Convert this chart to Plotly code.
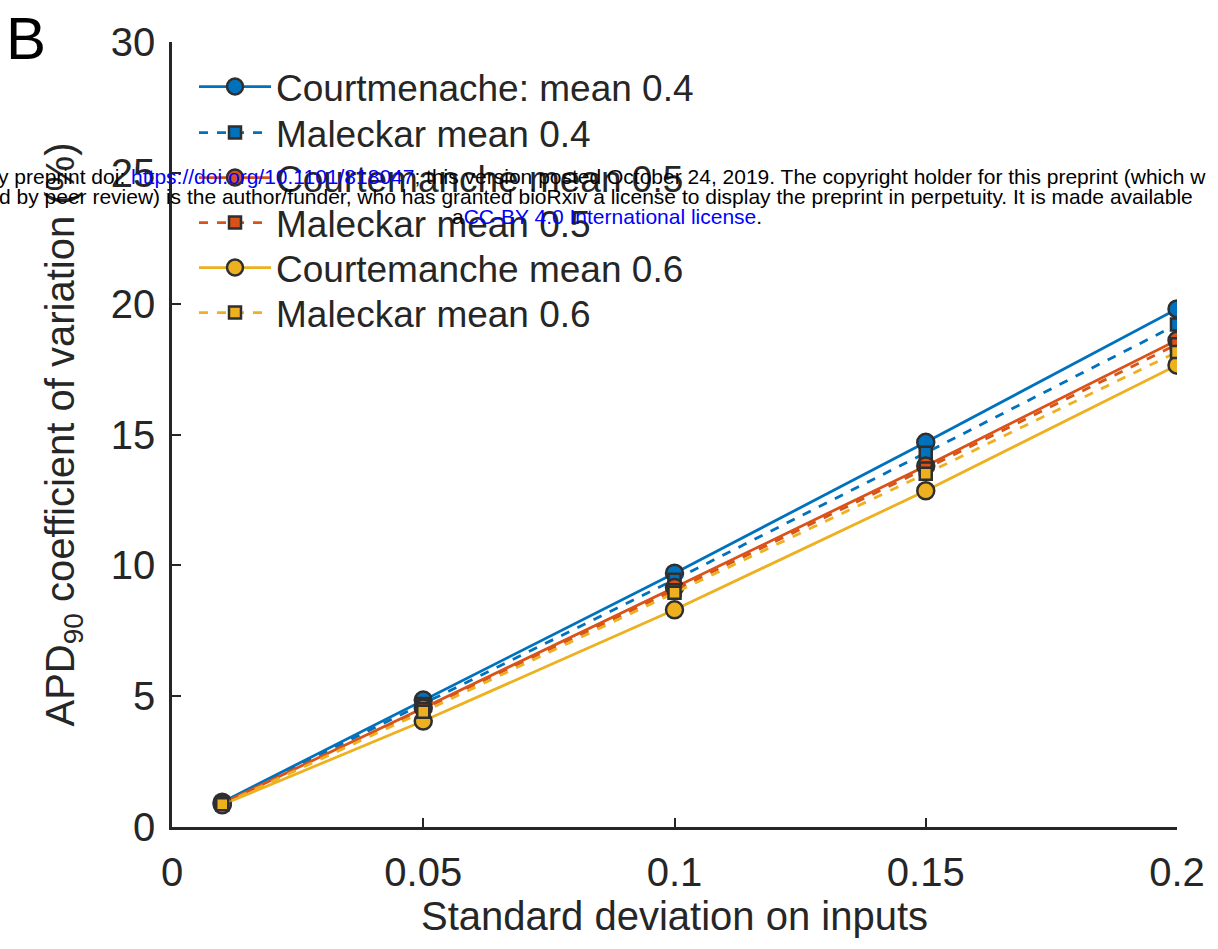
import plotly.graph_objects as go

# ---- data ----
sd_inputs = [0.01, 0.05, 0.10, 0.15, 0.20]
courtemanche_04 = [0.95, 4.85, 9.70, 14.70, 19.80]
maleckar_04 = [0.92, 4.70, 9.45, 14.30, 19.20]
courtemanche_05 = [0.90, 4.55, 9.15, 13.80, 18.60]
maleckar_05 = [0.88, 4.50, 9.05, 13.70, 18.45]
courtemanche_06 = [0.85, 4.05, 8.30, 12.85, 17.65]
maleckar_06 = [0.87, 4.40, 8.95, 13.50, 18.15]

series_names = ["Courtmenache: mean 0.4", "Maleckar mean 0.4", "Courtemanche mean 0.5",
                "Maleckar mean 0.5", "Courtemanche mean 0.6", "Maleckar mean 0.6"]
x_tick_vals = [0, 0.05, 0.1, 0.15, 0.2]
x_tick_text = ["0", "0.05", "0.1", "0.15", "0.2"]
y_tick_vals = [0, 5, 10, 15, 20, 25, 30]
y_tick_text = ["0", "5", "10", "15", "20", "25", "30"]

# ---- styling ----
BLUE, ORANGE, YELLOW = "#0072BD", "#D95319", "#EDB120"
EDGE = "#2f2f2f"
TXT = "#262626"
FONT = "Liberation Sans, Arial, sans-serif"

W, H = 1218, 949
L, R, T, B = 172, 41, 42, 122


def px2x(px):
    return (px - L) / (W - L - R)


def px2y(py):
    return (H - B - py) / (H - T - B)


series = [
    (courtemanche_04, BLUE, "solid", "circle", 17),
    (maleckar_04, BLUE, "dash", "square", 12),
    (courtemanche_05, ORANGE, "solid", "circle", 17),
    (maleckar_05, ORANGE, "dash", "square", 12),
    (courtemanche_06, YELLOW, "solid", "circle", 17),
    (maleckar_06, YELLOW, "dash", "square", 12),
]
legend_rows_px = [87, 133, 178, 223, 268, 313]
legend_ids = ["legend", "legend2", "legend3", "legend4", "legend5", "legend6"]

fig = go.Figure()
for name, (vals, col, dash, sym, size), lid in zip(series_names, series, legend_ids):
    fig.add_trace(go.Scatter(
        x=sd_inputs, y=vals, name=name, mode="lines+markers",
        line=dict(color=col, width=2.8, dash=dash),
        marker=dict(symbol=sym, size=size, color=col,
                    line=dict(color=EDGE, width=2.5)),
        legend=lid,
    ))

axis_common = dict(
    showline=True, linecolor=TXT, linewidth=2.5, mirror=False,
    ticks="inside", ticklen=9, tickwidth=2, tickcolor=TXT,
    showgrid=False, zeroline=False,
    tickfont=dict(family=FONT, size=40, color=TXT),
)

legend_layouts = {}
for lid, ypx in zip(legend_ids, legend_rows_px):
    legend_layouts[lid] = dict(
        x=px2x(194), y=px2y(ypx), xanchor="left", yanchor="middle",
        bgcolor="rgba(0,0,0,0)", borderwidth=0,
        font=dict(family=FONT, size=37, color=TXT),
        itemwidth=72,
    )

fig.update_layout(
    width=W, height=H,
    margin=dict(l=L, r=R, t=T, b=B),
    paper_bgcolor="white", plot_bgcolor="white",
    font=dict(family=FONT, color=TXT),
    xaxis=dict(range=[0, 0.2], tickvals=x_tick_vals, ticktext=x_tick_text,
               ticklabelstandoff=8,
               title=dict(text="Standard deviation on inputs",
                          font=dict(family=FONT, size=40, color=TXT), standoff=10),
               **axis_common),
    yaxis=dict(range=[0, 30], tickvals=y_tick_vals, ticktext=y_tick_text,
               ticklabelstandoff=6,
               title=dict(text="APD<sub>90</sub> coefficient of variation (%)",
                          font=dict(family=FONT, size=40, color=TXT), standoff=24),
               **axis_common),
    showlegend=True,
    **legend_layouts,
)

# panel label
fig.add_annotation(text="B", xref="paper", yref="paper", x=px2x(4), y=px2y(38),
                   xanchor="left", yanchor="middle", showarrow=False,
                   font=dict(family=FONT, size=60, color="black"))

# bioRxiv watermark lines
wm_font = dict(family="Liberation Sans, Arial, sans-serif", size=21, color="black")
line1 = ("y preprint doi: <span style='color:#0000FF'>https://doi.org/10.1101/818047</span>; "
         "this version posted October 24, 2019. The copyright holder for this preprint (which w")
line2 = ("d by peer review) is the author/funder, who has granted bioRxiv a license to display "
         "the preprint in perpetuity. It is made available")
line3 = "a<span style='color:#0000FF'>CC-BY 4.0 International license</span>."
for txt, xp, yp in [(line1, -4, 177), (line2, -3, 197), (line3, 450, 217)]:
    fig.add_annotation(text=txt, xref="paper", yref="paper", x=px2x(xp), y=px2y(yp),
                       xanchor="left", yanchor="middle", showarrow=False, font=wm_font)

fig.write_html("out.html")
